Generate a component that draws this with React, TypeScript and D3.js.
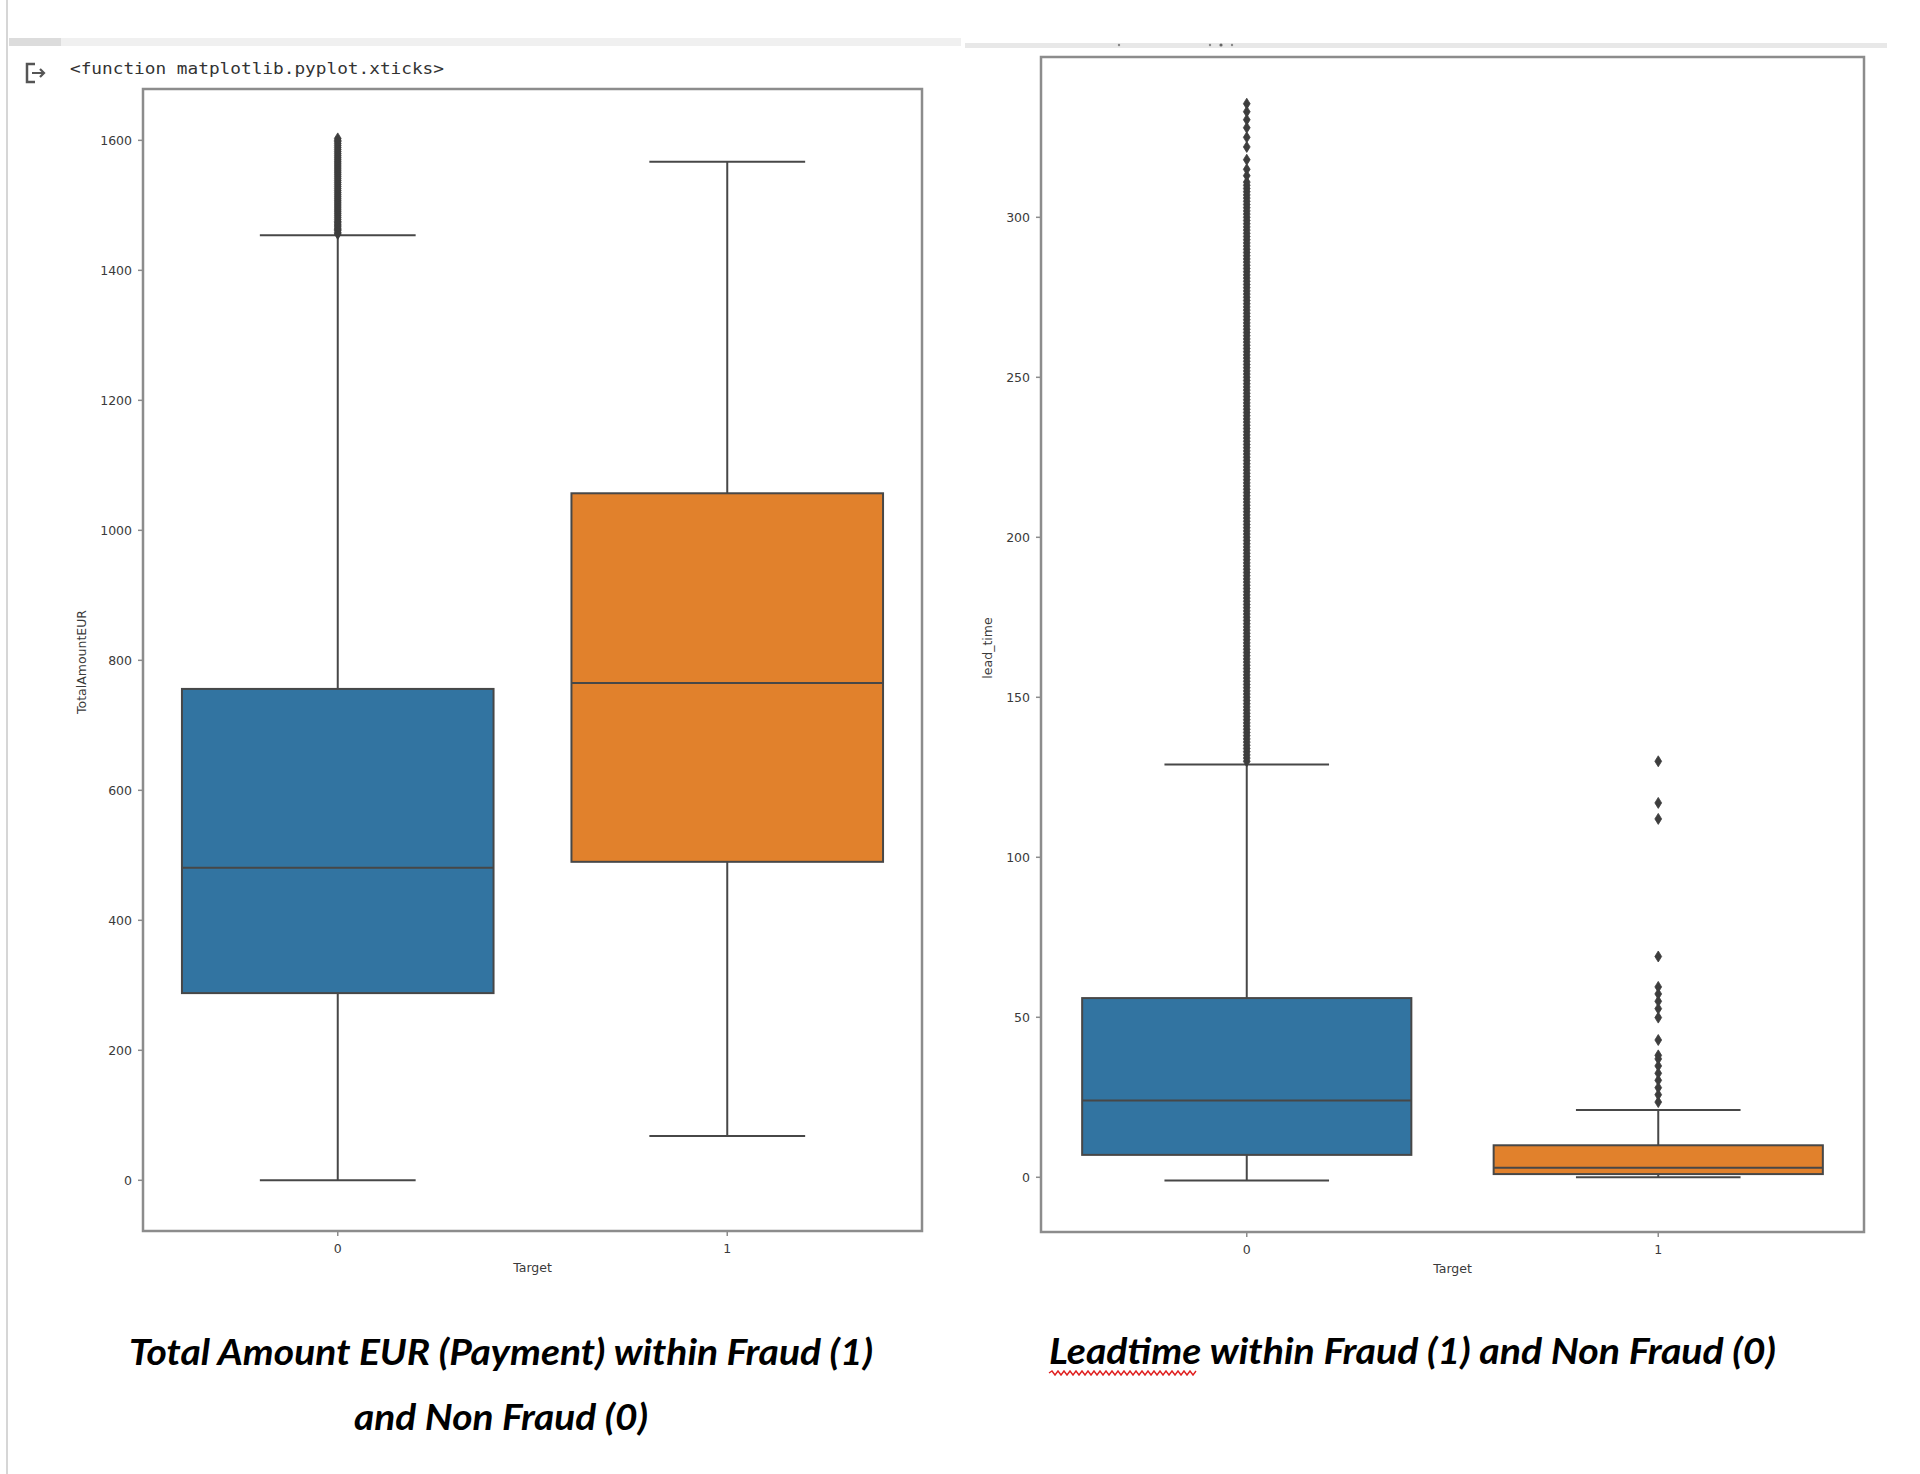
import React from "react";
import * as d3 from "d3";

// ---------- data ----------
const categories = ["0", "1"];

// Total Amount EUR per Target
const amountQ1 = [288, 490];
const amountMedian = [481, 765];
const amountQ3 = [756, 1057];
const amountWhiskerLow = [0, 68];
const amountWhiskerHigh = [1454, 1567];
const amountOutliers0 = [
  1456, 1458, 1461, 1463, 1465, 1468, 1470, 1473, 1475, 1478, 1481, 1484, 1487,
  1490, 1493, 1496, 1499, 1502, 1505, 1508, 1511, 1514, 1517, 1520, 1523, 1526,
  1529, 1532, 1535, 1538, 1541, 1544, 1547, 1550, 1553, 1556, 1559, 1562, 1565,
  1568, 1571, 1574, 1577, 1580, 1583, 1586, 1589, 1592, 1595, 1598, 1600, 1603,
];
const amountOutliers1: number[] = [];
const amountTicks = [0, 200, 400, 600, 800, 1000, 1200, 1400, 1600];

// Lead time per Target
const leadQ1 = [7, 1];
const leadMedian = [24, 3];
const leadQ3 = [56, 10];
const leadWhiskerLow = [-1, 0];
const leadWhiskerHigh = [129, 21];
const leadOutliers0 = [
  130, 131, 132, 133, 134, 135, 136, 137, 138, 139, 140, 141, 142, 143, 144, 145,
  146, 147, 148, 149, 150, 151, 152, 153, 154, 155, 156, 157, 158, 159, 160, 161,
  162, 163, 164, 165, 166, 167, 168, 169, 170, 171, 172, 173, 174, 175, 176, 177,
  178, 179, 180, 181, 182, 183, 184, 185, 186, 187, 188, 189, 190, 191, 192, 193,
  194, 195, 196, 197, 198, 199, 200, 201, 202, 203, 204, 205, 206, 207, 208, 209,
  210, 211, 212, 213, 214, 215, 216, 217, 218, 219, 220, 221, 222, 223, 224, 225,
  226, 227, 228, 229, 230, 231, 232, 233, 234, 235, 236, 237, 238, 239, 240, 241,
  242, 243, 244, 245, 246, 247, 248, 249, 250, 251, 252, 253, 254, 255, 256, 257,
  258, 259, 260, 261, 262, 263, 264, 265, 266, 267, 268, 269, 270, 271, 272, 273,
  274, 275, 276, 277, 278, 279, 280, 281, 282, 283, 284, 285, 286, 287, 288, 289,
  290, 291, 292, 293, 294, 295, 296, 297, 298, 299, 300, 301, 302, 303, 304, 305,
  306, 307, 308, 309, 310, 311, 313, 315, 318, 322, 325, 328, 330.5, 333, 335.5,
];
const leadOutliers1 = [
  23.5, 25.8, 28, 30.3, 32.5, 34.8, 37, 38.1, 42.9, 49.9, 52.7, 55, 57.3, 59.5,
  69, 112, 117, 130,
];
const leadTicks = [0, 50, 100, 150, 200, 250, 300];

const boxColors = ["#3274a1", "#e1812c"];

// ---------- layout ----------
const LINE = "#474747";
const SPINE = "#8c8c8c";
const TICK_FONT = "DejaVu Sans, sans-serif";

type Panel = {
  x0: number;
  x1: number;
  y0: number;
  y1: number;
  domain: [number, number];
  q1: number[];
  med: number[];
  q3: number[];
  lo: number[];
  hi: number[];
  outliers: number[][];
  ticks: number[];
  ylabel: string;
  ylabelX: number;
  ylabelY: number;
  labelGap: number;
};

const panels: Panel[] = [
  {
    x0: 143,
    x1: 922,
    y0: 89,
    y1: 1231,
    domain: [-78, 1679],
    q1: amountQ1,
    med: amountMedian,
    q3: amountQ3,
    lo: amountWhiskerLow,
    hi: amountWhiskerHigh,
    outliers: [amountOutliers0, amountOutliers1],
    ticks: amountTicks,
    ylabel: "TotalAmountEUR",
    ylabelX: 82,
    ylabelY: 662,
    labelGap: 11,
  },
  {
    x0: 1041,
    x1: 1864,
    y0: 57,
    y1: 1232,
    domain: [-17.1, 350.1],
    q1: leadQ1,
    med: leadMedian,
    q3: leadQ3,
    lo: leadWhiskerLow,
    hi: leadWhiskerHigh,
    outliers: [leadOutliers0, leadOutliers1],
    ticks: leadTicks,
    ylabel: "lead_time",
    ylabelX: 988,
    ylabelY: 648,
    labelGap: 11,
  },
];

const diamond = "M0,-5.5L3.4,0L0,5.5L-3.4,0Z";

function BoxPanel({ p }: { p: Panel }) {
  const x = d3
    .scaleBand<string>()
    .domain(categories)
    .range([p.x0, p.x1])
    .paddingInner(0)
    .paddingOuter(0);
  const y = d3.scaleLinear().domain(p.domain).range([p.y1, p.y0]);
  const bw = x.bandwidth() * 0.8;
  const cap = bw / 2;

  return (
    <g>
      {categories.map((c, i) => {
        const cx = (x(c) as number) + x.bandwidth() / 2;
        return (
          <g key={c}>
            {/* whiskers */}
            <line x1={cx} x2={cx} y1={y(p.q3[i])} y2={y(p.hi[i])} stroke={LINE} strokeWidth={2} />
            <line x1={cx} x2={cx} y1={y(p.q1[i])} y2={y(p.lo[i])} stroke={LINE} strokeWidth={2} />
            <line x1={cx - cap / 2} x2={cx + cap / 2} y1={y(p.hi[i])} y2={y(p.hi[i])} stroke={LINE} strokeWidth={2} />
            <line x1={cx - cap / 2} x2={cx + cap / 2} y1={y(p.lo[i])} y2={y(p.lo[i])} stroke={LINE} strokeWidth={2} />
            {/* box */}
            <rect
              x={cx - bw / 2}
              y={y(p.q3[i])}
              width={bw}
              height={y(p.q1[i]) - y(p.q3[i])}
              fill={boxColors[i]}
              stroke={LINE}
              strokeWidth={2}
            />
            <line x1={cx - bw / 2} x2={cx + bw / 2} y1={y(p.med[i])} y2={y(p.med[i])} stroke={LINE} strokeWidth={2} />
            {/* fliers */}
            {p.outliers[i].map((v, k) => (
              <path key={k} d={diamond} transform={`translate(${cx},${y(v)})`} fill="#3d3d3d" stroke="#3d3d3d" strokeWidth={0.8} />
            ))}
            {/* x tick */}
            <line x1={cx} x2={cx} y1={p.y1} y2={p.y1 + 5} stroke={SPINE} strokeWidth={1.5} />
            <text x={cx} y={p.y1 + 22} textAnchor="middle" fontFamily={TICK_FONT} fontSize={12.5} fill="#3a3a3a">
              {c}
            </text>
          </g>
        );
      })}
      {/* frame */}
      <rect x={p.x0} y={p.y0} width={p.x1 - p.x0} height={p.y1 - p.y0} fill="none" stroke={SPINE} strokeWidth={2.5} />
      {/* y ticks */}
      {p.ticks.map((t) => (
        <g key={t}>
          <line x1={p.x0 - 5} x2={p.x0} y1={y(t)} y2={y(t)} stroke={SPINE} strokeWidth={1.5} />
          <text
            x={p.x0 - p.labelGap}
            y={y(t)}
            dy="0.35em"
            textAnchor="end"
            fontFamily={TICK_FONT}
            fontSize={12.5}
            fill="#3a3a3a"
          >
            {t}
          </text>
        </g>
      ))}
      {/* y label */}
      <text
        transform={`translate(${p.ylabelX},${p.ylabelY}) rotate(-90)`}
        textAnchor="middle"
        dy="0.35em"
        fontFamily={TICK_FONT}
        fontSize={12.5}
        fill="#3a3a3a"
      >
        {p.ylabel}
      </text>
      {/* x label */}
      <text
        x={(p.x0 + p.x1) / 2}
        y={p.y1 + 41}
        textAnchor="middle"
        fontFamily={TICK_FONT}
        fontSize={12.5}
        fill="#3a3a3a"
      >
        Target
      </text>
    </g>
  );
}

function squiggle(x0: number, x1: number, yc: number) {
  let d = `M${x0},${yc}`;
  let up = true;
  for (let xx = x0 + 3; xx <= x1; xx += 3) {
    d += `L${xx},${yc + (up ? -2 : 2)}`;
    up = !up;
  }
  return d;
}

export default function App() {
  const titleFont = "Lato, 'Open Sans', sans-serif";
  return (
    <svg
      width={1920}
      height={1474}
      viewBox="0 0 1920 1474"
      style={{ position: "absolute", left: 0, top: 0, display: "block", background: "#fff" }}
    >
      <rect x={0} y={0} width={1920} height={1474} fill="#fff" />
      {/* notebook chrome */}
      <line x1={7} x2={7} y1={0} y2={1474} stroke="#d6d6d6" strokeWidth={2} />
      <rect x={9} y={38} width={952} height={8} fill="#f0f0f0" />
      <rect x={9} y={38} width={52} height={8} fill="#dcdcdc" />
      <rect x={965} y={43} width={922} height={5} fill="#e8e8e8" />
      <circle cx={1119} cy={45} r={1.2} fill="#888" />
      <circle cx={1210} cy={45} r={1.2} fill="#888" />
      <circle cx={1221} cy={45} r={1.6} fill="#666" />
      <circle cx={1232} cy={45} r={1.2} fill="#888" />
      {/* output icon */}
      <path d="M35,64 L27,64 L27,82 L35,82" fill="none" stroke="#555" strokeWidth={2.5} />
      <path d="M32,73 L44,73 M40,69 L44,73 L40,77" fill="none" stroke="#555" strokeWidth={2.2} />
      <text
        x={70}
        y={74}
        fontFamily="'DejaVu Sans Mono', 'Liberation Mono', monospace"
        fontSize={16}
        fill="#333"
        textLength={374}
        lengthAdjust="spacingAndGlyphs"
      >
        {"<function matplotlib.pyplot.xticks>"}
      </text>

      {panels.map((p, i) => (
        <BoxPanel key={i} p={p} />
      ))}

      {/* captions */}
      <text
        x={129}
        y={1365}
        fontFamily={titleFont}
        fontStyle="italic"
        fontWeight="bold"
        fontSize={37}
        fill="#000"
        textLength={744}
        lengthAdjust="spacingAndGlyphs"
      >
        Total Amount EUR (Payment) within Fraud (1)
      </text>
      <text
        x={354}
        y={1430}
        fontFamily={titleFont}
        fontStyle="italic"
        fontWeight="bold"
        fontSize={37}
        fill="#000"
        textLength={294}
        lengthAdjust="spacingAndGlyphs"
      >
        and Non Fraud (0)
      </text>
      <text
        x={1049}
        y={1364}
        fontFamily={titleFont}
        fontStyle="italic"
        fontWeight="bold"
        fontSize={37}
        fill="#000"
        textLength={727}
        lengthAdjust="spacingAndGlyphs"
      >
        Leadtime within Fraud (1) and Non Fraud (0)
      </text>
      <path d={squiggle(1049, 1198, 1373)} fill="none" stroke="#e02020" strokeWidth={1.4} />
    </svg>
  );
}
